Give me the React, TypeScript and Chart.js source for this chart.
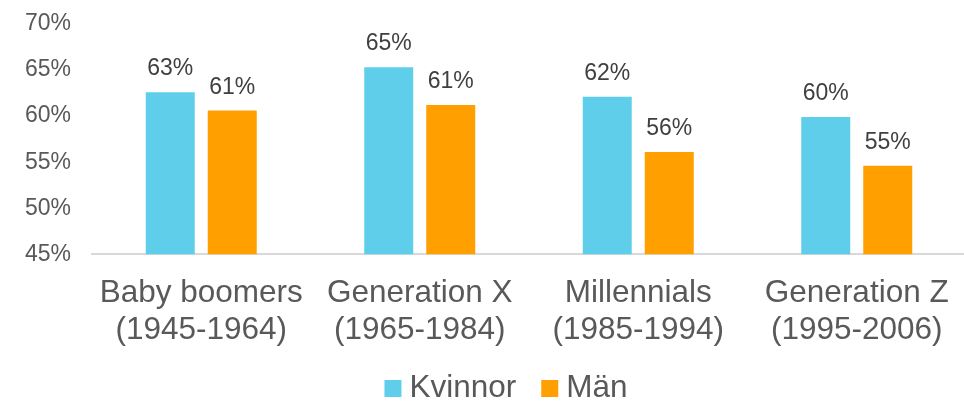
import React, { useEffect, useRef } from "react";
import { Chart, registerables } from "chart.js";

Chart.register(...registerables);

const categories: string[][] = [
  ["Baby boomers", "(1945-1964)"],
  ["Generation X", "(1965-1984)"],
  ["Millennials", "(1985-1994)"],
  ["Generation Z", "(1995-2006)"],
];
const kvinnor: number[] = [62.6, 65.3, 62.1, 59.9];
const man: number[] = [60.6, 61.2, 56.1, 54.6];
const seriesNames: string[] = ["Kvinnor", "Män"];
const seriesColors: string[] = ["#5FCEEA", "#FFA000"];
const yTicks: number[] = [45, 50, 55, 60, 65, 70];

const FONT = "'Liberation Sans', Arial, sans-serif";

const dataLabels = {
  id: "dataLabels",
  afterDatasetsDraw(chart: any) {
    const ctx = chart.ctx;
    ctx.save();
    ctx.font = `23px ${FONT}`;
    ctx.fillStyle = "#404040";
    ctx.textAlign = "center";
    ctx.textBaseline = "alphabetic";
    chart.data.datasets.forEach((ds: any, i: number) => {
      const meta = chart.getDatasetMeta(i);
      meta.data.forEach((el: any, j: number) => {
        const v = ds.data[j] as number;
        ctx.fillText(`${Math.round(v)}%`, el.x, el.y - 17);
      });
    });
    ctx.restore();
  },
};

const customLegend = {
  id: "customLegend",
  afterDraw(chart: any) {
    const ctx = chart.ctx;
    ctx.save();
    ctx.font = `31.5px ${FONT}`;
    ctx.textBaseline = "alphabetic";
    ctx.textAlign = "left";
    const box = 17;
    const gapBoxText = 8;
    const gapItems = 25;
    const items = chart.data.datasets.map((ds: any) => ({
      label: ds.label as string,
      color: ds.backgroundColor as string,
      w: box + gapBoxText + ctx.measureText(ds.label).width,
    }));
    const total =
      items.reduce((s: number, it: any) => s + it.w, 0) + gapItems * (items.length - 1);
    let x = chart.width / 2 - total / 2;
    const baseline = chart.height - 4;
    items.forEach((it: any) => {
      ctx.fillStyle = it.color;
      ctx.fillRect(x, baseline - box, box, box);
      ctx.fillStyle = "#595959";
      ctx.fillText(it.label, x + box + gapBoxText, baseline);
      x += it.w + gapItems;
    });
    ctx.restore();
  },
};

export default function App() {
  const ref = useRef<HTMLCanvasElement | null>(null);
  useEffect(() => {
    if (!ref.current) return;
    const chart = new Chart(ref.current, {
      type: "bar",
      data: {
        labels: categories,
        datasets: [
          {
            label: seriesNames[0],
            data: kvinnor,
            backgroundColor: seriesColors[0],
            borderWidth: 0,
            categoryPercentage: 0.5675,
            barPercentage: 0.79,
          },
          {
            label: seriesNames[1],
            data: man,
            backgroundColor: seriesColors[1],
            borderWidth: 0,
            categoryPercentage: 0.5675,
            barPercentage: 0.79,
          },
        ],
      },
      options: {
        responsive: false,
        animation: false,
        devicePixelRatio: 1,
        layout: { padding: { left: 25, right: 46, top: 24, bottom: 31 } },
        plugins: {
          legend: { display: false },
          tooltip: { enabled: false },
        },
        scales: {
          x: {
            grid: { display: false, drawTicks: false },
            border: { display: true, color: "#D9D9D9", width: 2 },
            ticks: {
              font: { family: FONT, size: 31.5, lineHeight: 1.17 },
              color: "#595959",
              padding: 21,
              maxRotation: 0,
              autoSkip: false,
            },
          },
          y: {
            min: yTicks[0],
            max: yTicks[yTicks.length - 1],
            afterBuildTicks: (axis: any) => {
              axis.ticks = yTicks.map((v) => ({ value: v }));
            },
            afterFit: (axis: any) => {
              axis.width = 67;
              axis.paddingTop = 0;
              axis.paddingBottom = 0;
            },
            grid: { display: false, drawTicks: false },
            border: { display: false },
            ticks: {
              font: { family: FONT, size: 23 },
              color: "#595959",
              padding: 21,
              callback: (v: any) => `${v}%`,
            },
          },
        },
      },
      plugins: [dataLabels, customLegend],
    });
    return () => chart.destroy();
  }, []);
  return (
    <div
      style={{
        position: "absolute",
        left: 0,
        top: 0,
        width: 964,
        height: 401,
        overflow: "hidden",
        background: "#fff",
      }}
    >
      <canvas ref={ref} width={1012} height={401} style={{ display: "block" }} />
    </div>
  );
}
